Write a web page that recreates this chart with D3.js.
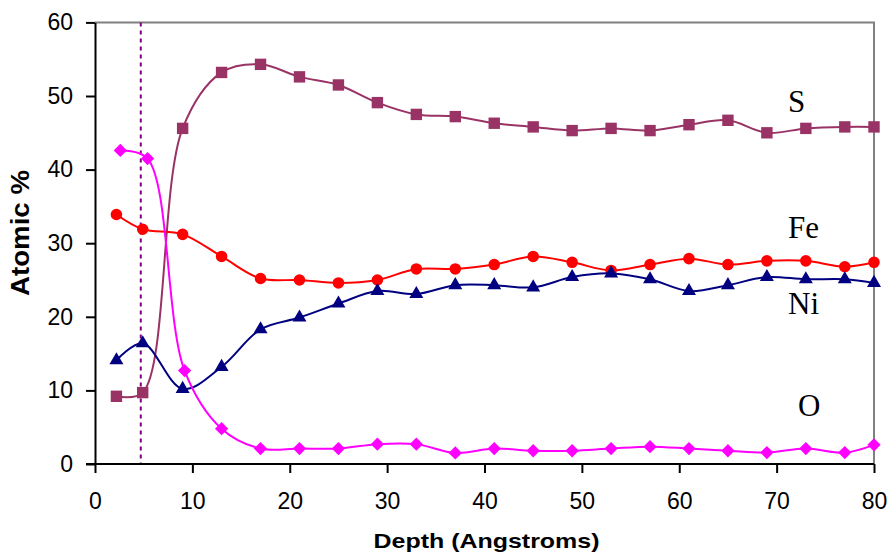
<!DOCTYPE html>
<html>
<head>
<meta charset="utf-8">
<script src="https://cdn.jsdelivr.net/npm/d3@7/dist/d3.min.js"></script>
<style>
  body { margin: 0; background: #fff; }
  svg { display: block; }
  .tick text { font-family: "Liberation Sans", Arial, sans-serif; font-size: 23px; fill: #000; }
  .series-label { font-family: "Liberation Serif", "Times New Roman", serif; font-size: 31px; fill: #000; }
  .axis-title { font-family: "Liberation Sans", Arial, sans-serif; font-weight: bold; fill: #000; }
</style>
</head>
<body>
<svg id="chart" width="891" height="554"></svg>
<script>
// depth positions (Angstroms)
const depth = [2.2, 4.9, 9, 13, 17, 21, 25, 29, 33, 37, 41, 45, 49, 53, 57, 61, 65, 69, 73, 77, 80];
const depthO = [2.6, 5.4, 9.2, 13, 17, 21, 25, 29, 33, 37, 41, 45, 49, 53, 57, 61, 65, 69, 73, 77, 80];

// atomic % per element
const sValues = [9.2, 9.7, 45.6, 53.2, 54.3, 52.6, 51.5, 49.1, 47.5, 47.2, 46.3, 45.8, 45.3, 45.6, 45.3, 46.1, 46.7, 45.0, 45.6, 45.8, 45.8];
const feValues = [33.9, 31.9, 31.2, 28.2, 25.2, 25.0, 24.6, 25.0, 26.5, 26.5, 27.1, 28.2, 27.4, 26.3, 27.1, 27.9, 27.1, 27.6, 27.6, 26.8, 27.4];
const niValues = [14.1, 16.4, 10.2, 13.2, 18.3, 19.9, 21.8, 23.5, 23.1, 24.3, 24.3, 24.0, 25.4, 25.9, 25.1, 23.5, 24.3, 25.4, 25.1, 25.1, 24.6];
const oValues = [42.6, 41.5, 12.7, 4.8, 2.1, 2.1, 2.1, 2.7, 2.7, 1.5, 2.1, 1.8, 1.8, 2.1, 2.35, 2.1, 1.8, 1.55, 2.1, 1.55, 2.6];

const xTicks = [0, 10, 20, 30, 40, 50, 60, 70, 80];
const yTicks = [0, 10, 20, 30, 40, 50, 60];
const markerLine = 4.7;

// rot: marker rotation in degrees (diamond = square turned 45deg)
const series = [
    { name: "S",  xs: depth,  ys: sValues,  color: "#993366", symbol: d3.symbolSquare,   size: 130, rot: 0,  label: [788, 112] },
    { name: "Fe", xs: depth,  ys: feValues, color: "#FF0000", symbol: d3.symbolCircle,   size: 105, rot: 0,  label: [788, 238] },
    { name: "Ni", xs: depth,  ys: niValues, color: "#000080", symbol: d3.symbolTriangle, size: 85,  rot: 0,  label: [788, 314] },
    { name: "O",  xs: depthO, ys: oValues,  color: "#FF00FF", symbol: d3.symbolSquare,   size: 88,  rot: 45, label: [798, 416] }
];

const svg = d3.select("#chart");
const plotLeft = 95, plotRight = 874, plotTop = 22.4, plotBottom = 464;

const x = d3.scaleLinear().domain([0, 80]).range([plotLeft, plotRight]);
const y = d3.scaleLinear().domain([0, 60]).range([plotBottom, plotTop]);

// frame: gray top/right
svg.append("path")
    .attr("d", `M${plotLeft},${plotTop}H${plotRight}V${plotBottom}`)
    .attr("fill", "none")
    .attr("stroke", "#808080")
    .attr("stroke-width", 2);

// dotted vertical marker
svg.append("line")
    .attr("x1", x(markerLine)).attr("x2", x(markerLine))
    .attr("y1", y(60)).attr("y2", y(0))
    .attr("stroke", "#800080")
    .attr("stroke-width", 2)
    .attr("stroke-dasharray", "4,4");

const yAxis = svg.append("g")
    .attr("transform", `translate(${plotLeft},0)`)
    .call(d3.axisLeft(y).tickValues(yTicks).tickSize(9).tickPadding(13).tickSizeOuter(0));
const xAxis = svg.append("g")
    .attr("transform", `translate(0,${plotBottom})`)
    .call(d3.axisBottom(x).tickValues(xTicks).tickSize(9).tickPadding(20).tickSizeOuter(0));

[xAxis, yAxis].forEach(g => {
    g.select(".domain").attr("stroke", "#000").attr("stroke-width", 2);
    g.selectAll(".tick line").attr("stroke", "#000").attr("stroke-width", 2);
});
xAxis.select(".domain").attr("d", `M${plotLeft - 9},0H${plotRight}`);

// smoothed lines, centripetal to keep overshoot small
const line = d3.line()
    .x(d => x(d[0]))
    .y(d => y(d[1]))
    .curve(d3.curveCatmullRom.alpha(0.5));

series.forEach(s => {
    const pts = s.xs.map((v, i) => [v, s.ys[i]]);
    svg.append("path")
        .datum(pts)
        .attr("d", line)
        .attr("fill", "none")
        .attr("stroke", s.color)
        .attr("stroke-width", 2);
    svg.append("g").selectAll("path")
        .data(pts).join("path")
        .attr("transform", d => `translate(${x(d[0])},${y(d[1])}) rotate(${s.rot})`)
        .attr("d", d3.symbol().type(s.symbol).size(s.size))
        .attr("fill", s.color);
    svg.append("text")
        .attr("class", "series-label")
        .attr("x", s.label[0]).attr("y", s.label[1])
        .text(s.name);
});

svg.append("text")
    .attr("class", "axis-title")
    .attr("text-anchor", "middle")
    .attr("font-size", 21)
    .attr("textLength", 226)
    .attr("lengthAdjust", "spacingAndGlyphs")
    .attr("x", (plotLeft + plotRight) / 2 + 2)
    .attr("y", 548)
    .text("Depth (Angstroms)");

svg.append("text")
    .attr("class", "axis-title")
    .attr("text-anchor", "middle")
    .attr("font-size", 25)
    .attr("textLength", 126)
    .attr("lengthAdjust", "spacingAndGlyphs")
    .attr("transform", "translate(29,233) rotate(-90)")
    .text("Atomic %");
</script>
</body>
</html>
